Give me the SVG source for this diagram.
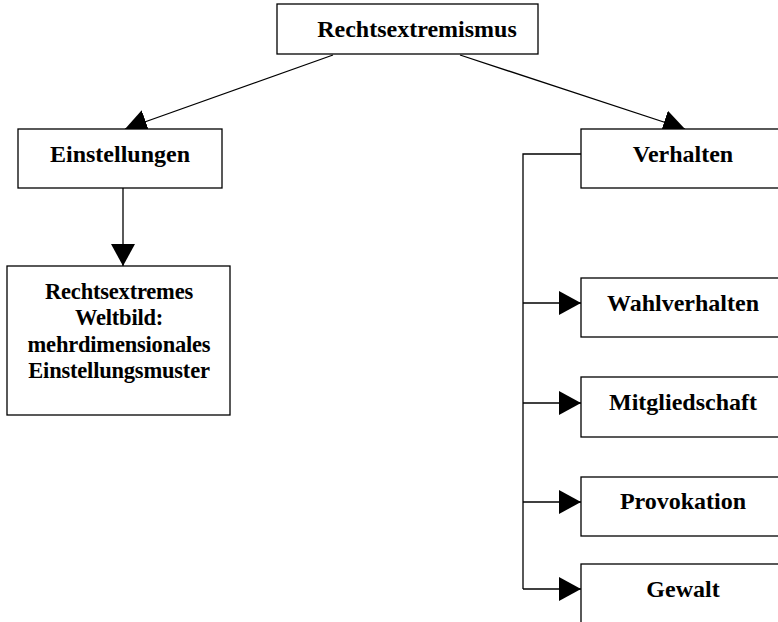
<svg xmlns="http://www.w3.org/2000/svg" width="778" height="622" viewBox="0 0 778 622">
<defs>
<marker id="arr" markerUnits="userSpaceOnUse" markerWidth="23" markerHeight="24" refX="22" refY="12" orient="auto">
<path d="M0,0 L22,12 L0,24 z" fill="#000"/>
</marker>
<style>
.box{fill:#fff;stroke:#000;stroke-width:1.3}
.lbl{font-family:"Liberation Serif","Times New Roman",serif;font-weight:bold;font-size:24px;fill:#000;text-anchor:middle}
.ml{font-size:22.5px;letter-spacing:-0.2px}
.con{fill:none;stroke:#000;stroke-width:1.3}
</style>
</defs>
<rect width="778" height="622" fill="#fff"/>
<g id="connectors">
<line class="con" x1="333" y1="55" x2="125" y2="129" marker-end="url(#arr)"/>
<line class="con" x1="460" y1="55" x2="685" y2="129" marker-end="url(#arr)"/>
<line class="con" x1="123" y1="188" x2="123" y2="266" marker-end="url(#arr)"/>
<polyline class="con" points="581,154 523,154 523,589"/>
<line class="con" x1="523" y1="303" x2="581" y2="303" marker-end="url(#arr)"/>
<line class="con" x1="523" y1="403" x2="581" y2="403" marker-end="url(#arr)"/>
<line class="con" x1="523" y1="502" x2="581" y2="502" marker-end="url(#arr)"/>
<line class="con" x1="523" y1="589" x2="581" y2="589" marker-end="url(#arr)"/>
</g>
<g id="rechtsextremismus">
<rect class="box" x="277" y="4" width="261" height="50"/>
<text class="lbl" x="417" y="37">Rechtsextremismus</text>
</g>
<g id="einstellungen">
<rect class="box" x="18" y="129" width="204" height="59"/>
<text class="lbl" x="120" y="162">Einstellungen</text>
</g>
<g id="weltbild">
<rect class="box" x="7" y="266" width="223" height="149"/>
<text class="lbl ml" x="119" y="299">Rechtsextremes</text>
<text class="lbl ml" x="119" y="325">Weltbild:</text>
<text class="lbl ml" x="119" y="352">mehrdimensionales</text>
<text class="lbl ml" x="119" y="378">Einstellungsmuster</text>
</g>
<g id="verhalten">
<rect class="box" x="581" y="129" width="210" height="59"/>
<text class="lbl" x="683" y="162">Verhalten</text>
</g>
<g id="wahlverhalten">
<rect class="box" x="581" y="278" width="210" height="59"/>
<text class="lbl" x="683" y="311">Wahlverhalten</text>
</g>
<g id="mitgliedschaft">
<rect class="box" x="581" y="377" width="210" height="60"/>
<text class="lbl" x="683" y="410">Mitgliedschaft</text>
</g>
<g id="provokation">
<rect class="box" x="581" y="477" width="210" height="59"/>
<text class="lbl" x="683" y="509">Provokation</text>
</g>
<g id="gewalt">
<rect class="box" x="581" y="564" width="210" height="70"/>
<text class="lbl" x="683" y="597">Gewalt</text>
</g>
</svg>
